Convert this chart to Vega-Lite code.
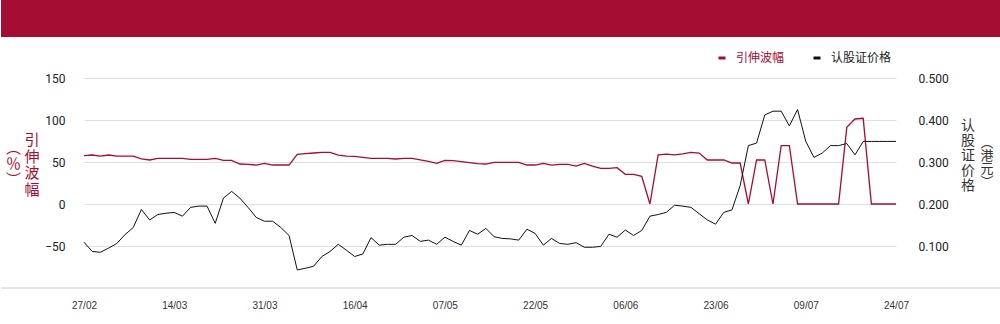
{
  "$schema": "https://vega.github.io/schema/vega-lite/v6.json",
  "padding": 0,
  "background": "white",
  "spacing": 35,
  "config": {"view": {"stroke": null}, "font": "Noto Sans CJK SC"},
  "vconcat": [
    {
      "width": 1000,
      "height": 37,
      "view": {"fill": "#a50d32", "stroke": null},
      "data": {"values": [{"t": ""}]},
      "mark": {"type": "text", "text": ""},
      "encoding": {}
    },
    {
      "width": 1000,
      "height": 210,
      "data": {"values": [
        {"d": "27/02", "iv": 57.5, "p": 0.109},
        {"d": "28/02", "iv": 58.3, "p": 0.087},
        {"d": "03/03", "iv": 57.1, "p": 0.085},
        {"d": "04/03", "iv": 58.3, "p": 0.095},
        {"d": "05/03", "iv": 57.1, "p": 0.106},
        {"d": "06/03", "iv": 57.1, "p": 0.127},
        {"d": "07/03", "iv": 57.1, "p": 0.144},
        {"d": "10/03", "iv": 53.6, "p": 0.187},
        {"d": "11/03", "iv": 52.4, "p": 0.162},
        {"d": "12/03", "iv": 54.4, "p": 0.175},
        {"d": "13/03", "iv": 54.4, "p": 0.178},
        {"d": "14/03", "iv": 54.4, "p": 0.180},
        {"d": "17/03", "iv": 54.4, "p": 0.171},
        {"d": "18/03", "iv": 53.2, "p": 0.192},
        {"d": "19/03", "iv": 53.2, "p": 0.195},
        {"d": "20/03", "iv": 53.2, "p": 0.195},
        {"d": "21/03", "iv": 54.4, "p": 0.154},
        {"d": "24/03", "iv": 52.0, "p": 0.214},
        {"d": "25/03", "iv": 52.0, "p": 0.230},
        {"d": "26/03", "iv": 47.6, "p": 0.214},
        {"d": "27/03", "iv": 47.2, "p": 0.192},
        {"d": "28/03", "iv": 46.4, "p": 0.168},
        {"d": "31/03", "iv": 48.4, "p": 0.159},
        {"d": "01/04", "iv": 46.4, "p": 0.159},
        {"d": "02/04", "iv": 46.4, "p": 0.144},
        {"d": "03/04", "iv": 46.4, "p": 0.125},
        {"d": "07/04", "iv": 59.1, "p": 0.043},
        {"d": "08/04", "iv": 59.9, "p": 0.047},
        {"d": "09/04", "iv": 60.7, "p": 0.052},
        {"d": "10/04", "iv": 61.5, "p": 0.075},
        {"d": "11/04", "iv": 61.5, "p": 0.087},
        {"d": "14/04", "iv": 58.3, "p": 0.104},
        {"d": "15/04", "iv": 57.1, "p": 0.090},
        {"d": "16/04", "iv": 56.7, "p": 0.075},
        {"d": "17/04", "iv": 55.5, "p": 0.081},
        {"d": "22/04", "iv": 54.4, "p": 0.120},
        {"d": "23/04", "iv": 54.4, "p": 0.102},
        {"d": "24/04", "iv": 54.4, "p": 0.104},
        {"d": "25/04", "iv": 53.6, "p": 0.104},
        {"d": "28/04", "iv": 54.4, "p": 0.121},
        {"d": "29/04", "iv": 54.4, "p": 0.125},
        {"d": "30/04", "iv": 52.4, "p": 0.111},
        {"d": "02/05", "iv": 50.8, "p": 0.114},
        {"d": "06/05", "iv": 48.4, "p": 0.104},
        {"d": "07/05", "iv": 52.0, "p": 0.121},
        {"d": "08/05", "iv": 51.6, "p": 0.111},
        {"d": "09/05", "iv": 50.4, "p": 0.102},
        {"d": "12/05", "iv": 49.2, "p": 0.137},
        {"d": "13/05", "iv": 48.0, "p": 0.128},
        {"d": "14/05", "iv": 47.6, "p": 0.142},
        {"d": "15/05", "iv": 49.5, "p": 0.122},
        {"d": "16/05", "iv": 49.6, "p": 0.118},
        {"d": "19/05", "iv": 49.6, "p": 0.117},
        {"d": "20/05", "iv": 49.6, "p": 0.114},
        {"d": "21/05", "iv": 46.4, "p": 0.140},
        {"d": "22/05", "iv": 46.4, "p": 0.130},
        {"d": "23/05", "iv": 48.4, "p": 0.102},
        {"d": "26/05", "iv": 46.4, "p": 0.118},
        {"d": "27/05", "iv": 47.2, "p": 0.106},
        {"d": "28/05", "iv": 47.2, "p": 0.104},
        {"d": "29/05", "iv": 45.2, "p": 0.108},
        {"d": "30/05", "iv": 48.4, "p": 0.097},
        {"d": "02/06", "iv": 45.2, "p": 0.097},
        {"d": "03/06", "iv": 42.5, "p": 0.099},
        {"d": "04/06", "iv": 42.5, "p": 0.128},
        {"d": "05/06", "iv": 43.3, "p": 0.121},
        {"d": "06/06", "iv": 35.3, "p": 0.138},
        {"d": "09/06", "iv": 35.3, "p": 0.125},
        {"d": "10/06", "iv": 32.9, "p": 0.137},
        {"d": "11/06", "iv": 0, "p": 0.171},
        {"d": "12/06", "iv": 58.5, "p": 0.175},
        {"d": "13/06", "iv": 59.3, "p": 0.180},
        {"d": "16/06", "iv": 58.5, "p": 0.197},
        {"d": "17/06", "iv": 59.7, "p": 0.195},
        {"d": "18/06", "iv": 61.5, "p": 0.192},
        {"d": "19/06", "iv": 60.7, "p": 0.177},
        {"d": "20/06", "iv": 52.4, "p": 0.162},
        {"d": "23/06", "iv": 52.4, "p": 0.152},
        {"d": "24/06", "iv": 52.4, "p": 0.180},
        {"d": "25/06", "iv": 48.8, "p": 0.186},
        {"d": "26/06", "iv": 48.8, "p": 0.244},
        {"d": "27/06", "iv": 0, "p": 0.339},
        {"d": "30/06", "iv": 52.4, "p": 0.345},
        {"d": "02/07", "iv": 52.4, "p": 0.412},
        {"d": "03/07", "iv": 0, "p": 0.421},
        {"d": "04/07", "iv": 69.4, "p": 0.421},
        {"d": "07/07", "iv": 69.4, "p": 0.386},
        {"d": "08/07", "iv": 0, "p": 0.425},
        {"d": "09/07", "iv": 0, "p": 0.349},
        {"d": "10/07", "iv": 0, "p": 0.311},
        {"d": "11/07", "iv": 0, "p": 0.321},
        {"d": "14/07", "iv": 0, "p": 0.339},
        {"d": "15/07", "iv": 0, "p": 0.339},
        {"d": "16/07", "iv": 91.3, "p": 0.344},
        {"d": "17/07", "iv": 101.2, "p": 0.317},
        {"d": "18/07", "iv": 102.0, "p": 0.349},
        {"d": "21/07", "iv": 0, "p": 0.349},
        {"d": "22/07", "iv": 0, "p": 0.349},
        {"d": "23/07", "iv": 0, "p": 0.349},
        {"d": "24/07", "iv": 0, "p": 0.349}
      ]},
      "layer": [
        {
          "data": {"values": [{"base": -100}]},
          "mark": {"type": "rule", "color": "#cccccc", "strokeWidth": 1},
          "encoding": {
            "y": {
              "field": "base",
              "type": "quantitative",
              "scale": {"domain": [-100, 150], "nice": false, "zero": false},
              "axis": {
                "orient": "right",
                "offset": -105,
                "labels": false,
                "ticks": false,
                "domain": false,
                "grid": false,
                "title": ["︵", "港", "元", "︶"],
                "titleAngle": 0,
                "titleAlign": "center",
                "titleBaseline": "middle",
                "titleFontSize": 13,
                "titleLineHeight": 13,
                "titleColor": "#333333",
                "titleFontWeight": "normal",
                "titleFont": "Noto Sans CJK SC",
                "titleX": 90.5,
                "titleY": 64
              }
            }
          }
        },
        {
          "mark": {"type": "line", "strokeWidth": 1.3},
          "encoding": {
            "x": {
              "field": "d",
              "type": "ordinal",
              "sort": null,
              "scale": {"type": "point", "padding": 0, "range": [83, 895]},
              "axis": {
                "values": ["27/02", "14/03", "31/03", "16/04", "07/05", "22/05", "06/06", "23/06", "09/07", "24/07"],
                "labelAngle": 0,
                "ticks": false,
                "grid": false,
                "domain": false,
                "labelPadding": 12,
                "labelFont": "Liberation Sans",
                "labelFontSize": 10,
                "labelColor": "#333333",
                "labelOverlap": false,
                "title": ["︵", "％", "︶"],
                "titleAngle": 0,
                "titleAlign": "right",
                "titleBaseline": "middle",
                "titleFontSize": 15,
                "titleLineHeight": 16,
                "titleColor": "#a50d32",
                "titleFontWeight": "normal",
                "titleFont": "Noto Sans CJK SC",
                "titleX": 19.5,
                "titleY": -141
              }
            },
            "y": {
              "field": "iv",
              "type": "quantitative",
              "scale": {"domain": [-100, 150], "nice": false, "zero": false},
              "axis": {
                "orient": "left",
                "offset": -83,
                "values": [-50, 0, 50, 100, 150],
                "grid": true,
                "gridColor": "#e0e0e0",
                "domain": false,
                "ticks": false,
                "labelPadding": 19,
                "labelFontSize": 12,
                "labelFont": "Roboto",
                "labelColor": "#222222",
                "title": ["引", "伸", "波", "幅"],
                "titleAngle": 0,
                "titleAlign": "center",
                "titleBaseline": "middle",
                "titleFontSize": 15,
                "titleLineHeight": 16.5,
                "titleColor": "#a50d32",
                "titleFontWeight": "normal",
                "titleFont": "Noto Sans CJK SC",
                "titleX": -52.5,
                "titleY": 61.5
              }
            },
            "color": {
              "datum": "引伸波幅",
              "scale": {"domain": ["引伸波幅", "认股证价格"], "range": ["#a50d32", "#111111"]},
              "legend": {
                "orient": "none",
                "legendX": 715,
                "legendY": 52,
                "direction": "horizontal",
                "title": null,
                "symbolType": "stroke",
                "symbolStrokeWidth": 3,
                "symbolSize": 49,
                "labelFontSize": 12,
                "labelFont": "Noto Sans CJK SC",
                "labelOffset": 8,
                "columnPadding": 22,
                "labelColor": "#222222",
                "encode": {"labels": {"update": {"fill": {"signal": "datum.label === '引伸波幅' ? '#a50d32' : '#222222'"}}}}
              }
            }
          }
        },
        {
          "mark": {"type": "line", "strokeWidth": 1},
          "encoding": {
            "x": {"field": "d", "type": "ordinal", "sort": null},
            "y": {
              "field": "p",
              "type": "quantitative",
              "scale": {"domain": [0, 0.5], "nice": false, "zero": false},
              "axis": {
                "orient": "right",
                "offset": -105,
                "values": [0.1, 0.2, 0.3, 0.4, 0.5],
                "format": ".3f",
                "grid": false,
                "domain": false,
                "ticks": false,
                "labelPadding": 22,
                "labelFontSize": 12,
                "labelFont": "Roboto",
                "labelColor": "#222222",
                "title": ["认", "股", "证", "价", "格"],
                "titleAngle": 0,
                "titleAlign": "center",
                "titleBaseline": "middle",
                "titleFontSize": 14,
                "titleLineHeight": 15,
                "titleColor": "#333333",
                "titleFontWeight": "normal",
                "titleFont": "Noto Sans CJK SC",
                "titleX": 71.5,
                "titleY": 47.5
              }
            },
            "color": {"datum": "认股证价格"}
          }
        }
      ],
      "resolve": {"scale": {"y": "independent"}}
    }
  ]
}
